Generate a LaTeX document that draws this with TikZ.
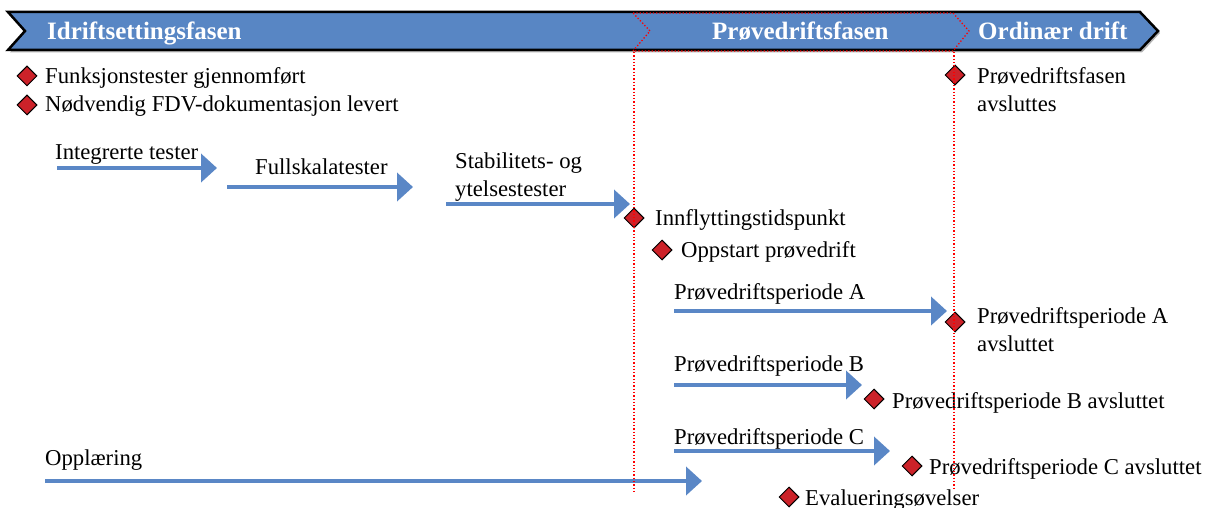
\documentclass[tikz,border=0pt]{standalone}
\usepackage{fontspec}
\setmainfont{Liberation Serif}
\usetikzlibrary{shapes.geometric,arrows.meta}
\definecolor{bannerblue}{HTML}{5886C4}
\definecolor{arrowblue}{HTML}{5A87C6}
\definecolor{msred}{HTML}{CC2229}
\begin{document}
\begin{tikzpicture}[x=1pt,y=-1pt,
  milestone/.style={diamond, aspect=1, draw=black, line width=1pt, fill=msred, inner sep=0pt, minimum size=20pt},
  lbl/.style={anchor=base west, inner sep=0pt, font=\fontsize{22.7}{28}\selectfont},
  phase/.style={anchor=base west, inner sep=0pt, text=white, font=\fontsize{25}{28}\selectfont\bfseries},
  flow/.style={arrowblue, line width=4pt, -{Triangle[length=16pt,width=28pt]}},
  marker/.style={red, dotted, line width=1.3pt}]
\useasboundingbox (0,0) rectangle (1209,508);

% phase banner with shadow
\fill[black!30] (10,14) -- (1142,14) -- (1160,33) -- (1142,52.5) -- (10,52.5) -- (27,33) -- cycle;
\draw[fill=bannerblue, line width=2.5pt, line join=miter]
  (8,12) -- (1140,12) -- (1158,31) -- (1140,50) -- (8,50) -- (25,31) -- cycle;
\node[phase] (p1) at (47,40) {Idriftsettingsfasen};
\node[phase] (p2) at (712,40) {Prøvedriftsfasen};
\node[phase] (p3) at (978,40) {Ordinær drift};

% milestones
\node[milestone] (m1) at (27,76) {};
\node[lbl] (t1) at (45,84) {Funksjonstester gjennomført};
\node[milestone] (m2) at (27,105) {};
\node[lbl] (t2) at (45,112) {Nødvendig FDV-dokumentasjon levert};
\node[milestone] (m3) at (955,75) {};
\node[lbl] (t3) at (977,84) {\begin{tabular}[t]{@{}l@{}}Prøvedriftsfasen\\avsluttes\end{tabular}};
\node[milestone] (m4) at (634,218) {};
\node[lbl] (t4) at (655,225) {Innflyttingstidspunkt};
\node[milestone] (m5) at (662,250) {};
\node[lbl] (t5) at (681,257) {Oppstart prøvedrift};
\node[milestone] (m6) at (955,322) {};
\node[lbl] (t6) at (977,323) {\begin{tabular}[t]{@{}l@{}}Prøvedriftsperiode A\\avsluttet\end{tabular}};
\node[milestone] (m7) at (874,399) {};
\node[lbl] (t7) at (892,408) {Prøvedriftsperiode B avsluttet};
\node[milestone] (m8) at (912,466) {};
\node[lbl] (t8) at (929,474) {Prøvedriftsperiode C avsluttet};
\node[milestone] (m9) at (789,497) {};
\node[lbl] (t9) at (805,505) {Evalueringsøvelser};

% activities
\coordinate (a1s) at (57,168);  \coordinate (a1e) at (217,168);
\coordinate (a2s) at (227,187); \coordinate (a2e) at (413,187);
\coordinate (a3s) at (446,204); \coordinate (a3e) at (630,204);
\coordinate (a4s) at (674,311); \coordinate (a4e) at (947,311);
\coordinate (a5s) at (674,385); \coordinate (a5e) at (862,385);
\coordinate (a6s) at (674,451); \coordinate (a6e) at (890,451);
\coordinate (a7s) at (45,481);  \coordinate (a7e) at (702,481);
\draw[flow] (a1s) -- (a1e);
\draw[flow] (a2s) -- (a2e);
\draw[flow] (a3s) -- (a3e);
\draw[flow] (a4s) -- (a4e);
\draw[flow] (a5s) -- (a5e);
\draw[flow] (a6s) -- (a6e);
\draw[flow] (a7s) -- (a7e);
\node[lbl] (l1) at (55,159) {Integrerte tester};
\node[lbl] (l2) at (255,174) {Fullskalatester};
\node[lbl] (l3) at (455,168) {\begin{tabular}[t]{@{}l@{}}Stabilitets- og\\ytelsestester\end{tabular}};
\node[lbl] (l4) at (674,299) {Prøvedriftsperiode A};
\node[lbl] (l5) at (674,371) {Prøvedriftsperiode B};
\node[lbl] (l6) at (674,444) {Prøvedriftsperiode C};
\node[lbl] (l7) at (45,465) {Opplæring};

% trial-operation period markers
\draw[marker] (633,13) -- (953,13) -- (969,31) -- (953,51) -- (633,51) -- (650,31) -- cycle;
\coordinate (v1t) at (634,52); \coordinate (v1b) at (634,492);
\coordinate (v2t) at (954,52); \coordinate (v2b) at (954,490);
\draw[marker] (v1t) -- (v1b);
\draw[marker] (v2t) -- (v2b);
\end{tikzpicture}
\end{document}
